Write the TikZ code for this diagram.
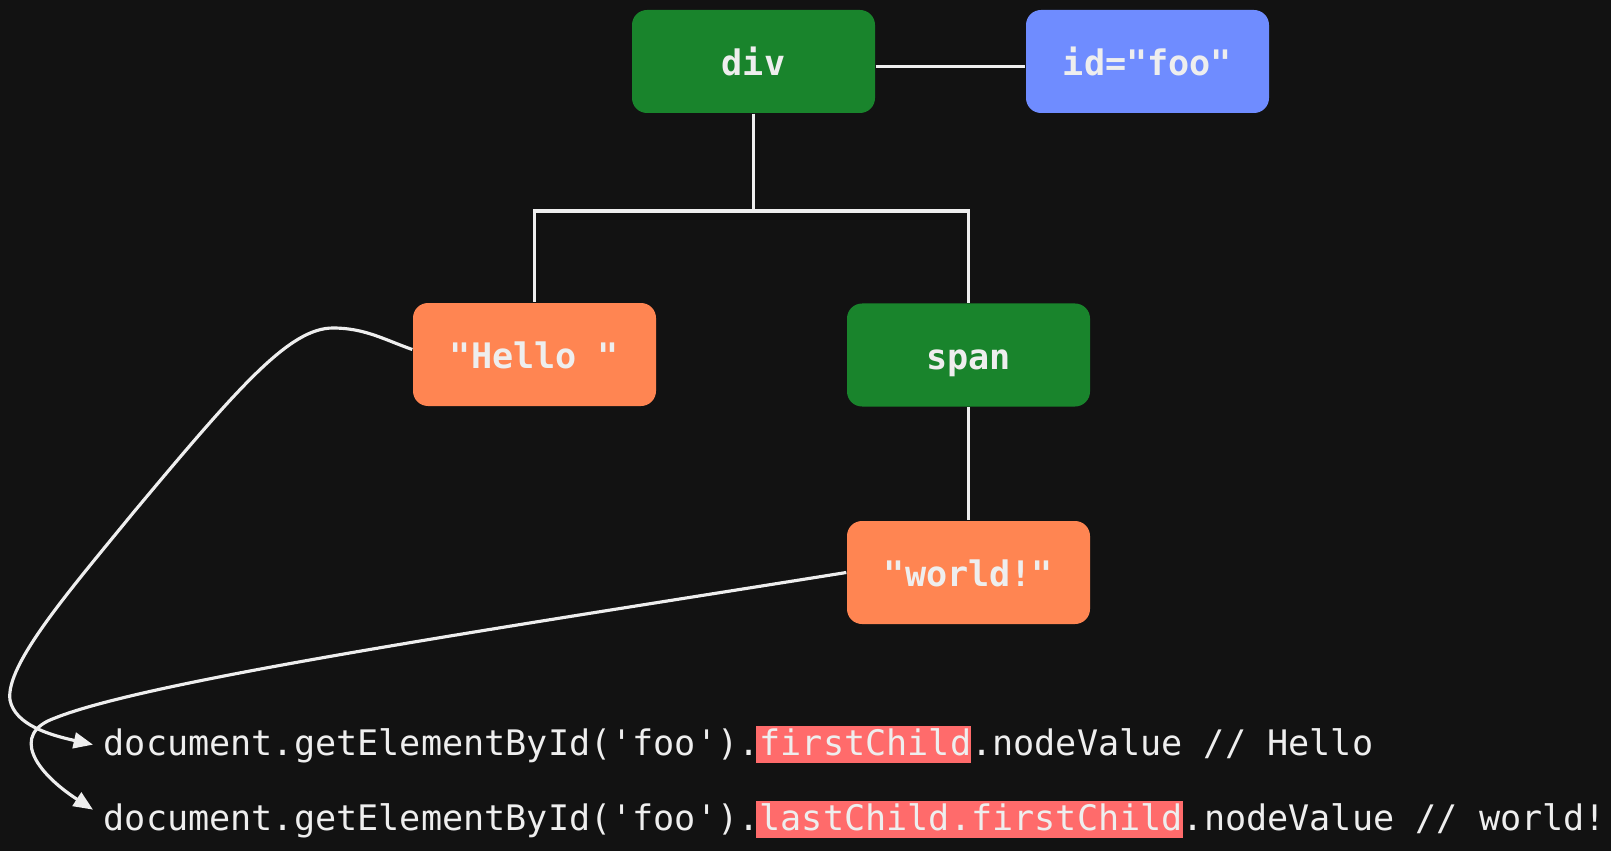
\documentclass[tikz,border=0pt]{standalone}
\usepackage{fontspec}
\setmonofont{DejaVu Sans Mono}
\usetikzlibrary{arrows.meta}
\definecolor{bg}{HTML}{121212}
\definecolor{fg}{HTML}{EEEEEE}
\definecolor{elgreen}{HTML}{19842C}
\definecolor{atblue}{HTML}{6F8CFF}
\definecolor{txorange}{HTML}{FF8552}
\definecolor{hlred}{HTML}{FF6B6B}
\newcommand{\hlt}[1]{{\setlength{\fboxsep}{0pt}\kern-0.9pt\colorbox{hlred}{\kern0.9pt\rule[-2.3pt]{0pt}{10.5pt}#1}}}
\tikzset{bx/.append style={rounded corners=0.15cm, minimum width=2.43cm, minimum height=1.03cm, inner sep=0pt, text height=8pt, text depth=0pt, text=fg, font=\ttfamily\bfseries}}
\tikzset{gn/.append style={fill=elgreen}}
\tikzset{bl/.append style={fill=atblue}}
\tikzset{or/.append style={fill=txorange}}
\tikzset{code/.append style={anchor=base west, inner sep=0pt, text=fg, font=\ttfamily}}
\tikzset{ln/.append style={draw=fg, line width=0.9pt}}
\tikzset{ar/.append style={ln, -{Triangle[length=5.5pt,width=4.5pt]}}}

\begin{document}
\begin{tikzpicture}
                \fill[bg] (0,0) rectangle (16.11,8.51);
                \useasboundingbox (0,0) rectangle (16.11,8.51);
                % tree
                \node[bx,gn] (div) at (7.535,7.895) {div};
                \node[bx,bl] (id) at (11.475,7.895) {id="foo"};
                \node[bx,or] (hello) at (5.345,4.965) {"Hello "};
                \node[bx,gn] (span) at (9.685,4.96) {span};
                \node[bx,or] (world) at (9.685,2.785) {"world!"};
                \coordinate (fork) at (7.535,6.40);
                \path[ln] ([yshift=-0.5mm]div.east) -- ([yshift=-0.5mm]id.west);
                \path[ln] (div.south) -- (fork) -| (hello.north);
                \path[ln] (fork) -| (span.north);
                \path[ln] (span) -- (world);
                % code
                \node[code] (code1) at (1.03,0.96) {document.getElementById('foo').\hlt{firstChild}.nodeValue // Hello};
                \node[code] (code2) at (1.03,0.21) {document.getElementById('foo').\hlt{lastChild.firstChild}.nodeValue // world!};
                \draw[ar] ([yshift=0.5mm]hello.west) .. controls (3.85,5.11) and (3.65,5.23) .. (3.33,5.23)
                    .. controls (2.90,5.23) and (2.40,4.66) .. (1.33,3.38)
                    .. controls (0.70,2.61) and (0.05,1.86) .. (0.10,1.51)
                    .. controls (0.15,1.26) and (0.50,1.16) .. ([xshift=-1mm]code1.west);
                \draw[ar] (world.west) .. controls (5.00,2.23) and (1.50,1.71) .. (0.55,1.33)
                    .. controls (0.10,1.17) and (0.35,0.79) .. ([xshift=-1mm,yshift=1mm]code2.west);
            \end{tikzpicture}
\end{document}
